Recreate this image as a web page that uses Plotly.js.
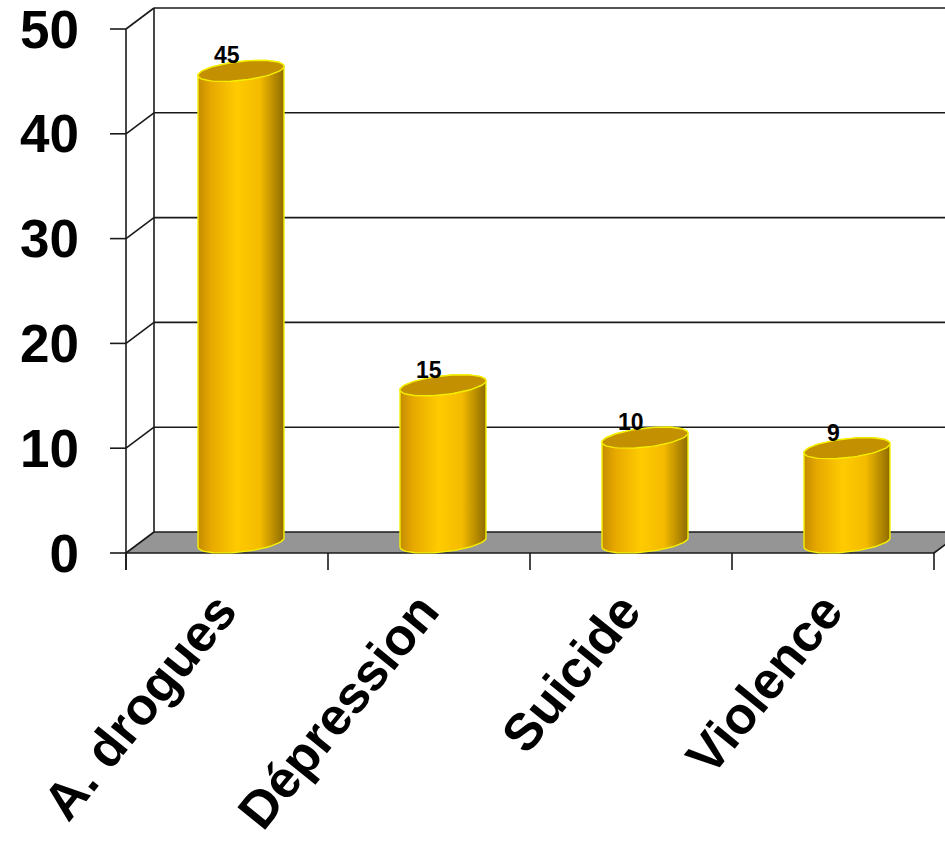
<!DOCTYPE html>
<html>
<head>
<meta charset="utf-8">
<script src="https://cdn.plot.ly/plotly-3.0.1.min.js"></script>
<style>
  html, body { margin: 0; padding: 0; background: #ffffff; }
  #chart { width: 945px; height: 845px; }
</style>
</head>
<body>
<div id="chart"></div>
<script>
// Chart data
const categories = ['A. drogues', 'Dépression', 'Suicide', 'Violence'];
const values = [45, 15, 10, 9];
const yTickVals = [0, 10, 20, 30, 40, 50];
const yTickText = ['0', '10', '20', '30', '40', '50'];

// Pseudo-3D geometry (axis units): x is one unit per category, y is the value scale
const PX_X = 202;          // pixels per category
const PX_Y = 10.48;        // pixels per value unit
const DX = 28 / PX_X;      // depth offset of the back wall, horizontal
const DY = 21 / PX_Y;      // depth offset of the back wall, vertical
const X_MIN = -0.5 - 18 / PX_X;
const X_MAX = -0.5 + 819 / PX_X;
const Y_MIN = -17 / PX_Y;
const Y_MAX = 553 / PX_Y;
const TICK_LEN = 16 / PX_X;

const CYL_A = 43 / PX_X;   // cylinder half width
const CYL_B = 9.5 / PX_Y;  // ellipse half height
const CYL_S = 4.6 / PX_Y;  // ellipse tilt (right side higher)

const LINE = { color: '#1a1a1a', width: 1.6 };
const FONT = 'Liberation Sans, Arial, Helvetica, sans-serif';

const shapes = [];

// grey floor
shapes.push({
  type: 'path', layer: 'below', xref: 'x', yref: 'y',
  path: `M ${-0.5},0 L ${3.5},0 L ${3.5 + DX},${DY} L ${-0.5 + DX},${DY} Z`,
  fillcolor: '#959595', line: { width: 0 }
});

// back wall gridlines, depth diagonals and left ticks
yTickVals.forEach(v => {
  shapes.push({ type: 'line', layer: 'below', xref: 'x', yref: 'y',
    x0: -0.5 + DX, y0: v + DY, x1: X_MAX + 0.1, y1: v + DY, line: LINE });
  shapes.push({ type: 'line', layer: 'below', xref: 'x', yref: 'y',
    x0: -0.5, y0: v, x1: -0.5 + DX, y1: v + DY, line: LINE });
  shapes.push({ type: 'line', layer: 'below', xref: 'x', yref: 'y',
    x0: -0.5 - TICK_LEN, y0: v, x1: -0.5, y1: v, line: LINE });
});

// back wall left edge
shapes.push({ type: 'line', layer: 'below', xref: 'x', yref: 'y',
  x0: -0.5 + DX, y0: DY, x1: -0.5 + DX, y1: 50 + DY, line: LINE });
// front value axis
shapes.push({ type: 'line', layer: 'below', xref: 'x', yref: 'y',
  x0: -0.5, y0: Y_MIN, x1: -0.5, y1: 50, line: LINE });
// front edge of the floor and its right depth edge
shapes.push({ type: 'line', layer: 'below', xref: 'x', yref: 'y',
  x0: -0.5, y0: 0, x1: 3.5, y1: 0, line: LINE });
shapes.push({ type: 'line', layer: 'below', xref: 'x', yref: 'y',
  x0: 3.5, y0: 0, x1: 3.5 + DX, y1: DY, line: LINE });
// category boundary ticks
for (let k = 0; k <= categories.length; k++) {
  const b = k - 0.5;
  shapes.push({ type: 'line', layer: 'below', xref: 'x', yref: 'y',
    x0: b, y0: 0, x1: b, y1: Y_MIN, line: LINE });
}

// cylinders
function ellipsePoints(cx, cy, t0, t1, n) {
  const xs = [], ys = [];
  for (let k = 0; k <= n; k++) {
    const t = t0 + (t1 - t0) * k / n;
    xs.push(cx + CYL_A * Math.cos(t));
    ys.push(cy + CYL_B * Math.sin(t) + CYL_S * Math.cos(t));
  }
  return { xs, ys };
}

const traces = [];
const annotations = [];
values.forEach((v, i) => {
  const cx = i + DX / 2;
  const cyBottom = DY / 2;
  const cyTop = v + DY / 2;
  const front = ellipsePoints(cx, cyBottom, Math.PI, 2 * Math.PI, 40);
  const back = ellipsePoints(cx, cyTop, 0, Math.PI, 40);
  traces.push({
    type: 'scatter', mode: 'lines', fill: 'toself',
    x: front.xs.concat(back.xs, [front.xs[0]]),
    y: front.ys.concat(back.ys, [front.ys[0]]),
    line: { color: '#f5f000', width: 1.4 },
    fillgradient: {
      type: 'horizontal',
      colorscale: [[0, '#c48c00'], [0.15, '#e6a800'], [0.45, '#ffcb00'],
                   [0.72, '#f4bb00'], [1, '#8e6b00']]
    },
    hoverinfo: 'skip', showlegend: false
  });
  const top = ellipsePoints(cx, cyTop, 0, 2 * Math.PI, 80);
  traces.push({
    type: 'scatter', mode: 'lines', fill: 'toself',
    x: top.xs, y: top.ys,
    fillcolor: '#c29000',
    line: { color: '#f5f000', width: 1.4 },
    hoverinfo: 'skip', showlegend: false
  });
  annotations.push({
    x: i, y: v, xref: 'x', yref: 'y', yshift: 26,
    text: String(v), showarrow: false,
    font: { family: FONT, size: 23, color: '#000000', weight: 700 }
  });
});

const layout = {
  width: 945, height: 845,
  margin: { l: 108, r: 0, t: 0, b: 275 },
  paper_bgcolor: '#ffffff', plot_bgcolor: 'rgba(0,0,0,0)',
  showlegend: false,
  xaxis: {
    range: [X_MIN, X_MAX], fixedrange: true,
    showgrid: false, zeroline: false, showline: false, ticks: '',
    tickmode: 'array', tickvals: categories.map((c, i) => i), ticktext: categories,
    tickangle: -51, automargin: false,
    ticklabelshift: -8, ticklabelstandoff: -1, ticklabeloverflow: 'allow',
    tickfont: { family: FONT, size: 52, color: '#000000', weight: 700 }
  },
  yaxis: {
    range: [Y_MIN, Y_MAX], fixedrange: true,
    showgrid: false, zeroline: false, showline: false, ticks: '',
    tickmode: 'array', tickvals: yTickVals, ticktext: yTickText,
    ticklabelstandoff: 28, automargin: false, ticklabeloverflow: 'allow',
    tickfont: { family: FONT, size: 53, color: '#000000', weight: 700 }
  },
  shapes: shapes,
  annotations: annotations
};

Plotly.newPlot('chart', traces, layout, { staticPlot: true, displayModeBar: false });
</script>
</body>
</html>
